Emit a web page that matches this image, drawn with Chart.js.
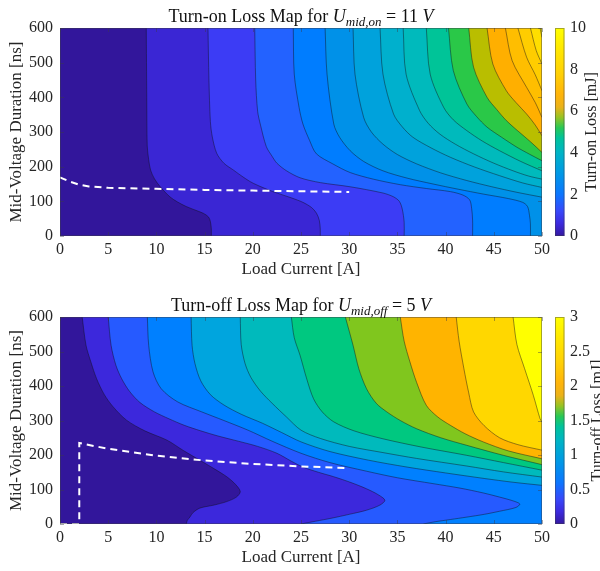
<!DOCTYPE html>
<html>
<head>
<meta charset="utf-8">
<script src="https://cdn.jsdelivr.net/npm/chart.js@4.4.0/dist/chart.umd.min.js"></script>
<style>
  body { margin: 0; background: #fff; }
  #wrap { position: relative; width: 600px; height: 571px; }
  canvas { position: absolute; left: 0; }
</style>
</head>
<body>
<div id="wrap">
  <canvas id="onChart" width="600" height="285" style="top:0"></canvas>
  <canvas id="offChart" width="600" height="286" style="top:285px"></canvas>
</div>
<script>
// MARK: - axes
const currentAxis = [0, 50, 5];      // min, max, step  [A]
const durationAxis = [0, 600, 100];  // min, max, step  [ns]
const onLossAxis = [0, 10, 2];       // [mJ]
const offLossAxis = [0, 3, 0.5];     // [mJ]

// MARK: - turn-on map (contour lines as [current, duration], levels 0.5 .. 8 mJ)
const onLevels = [0.5, 1, 1.5, 2, 2.5, 3, 3.5, 4, 4.5, 5, 5.5, 6, 6.5, 7, 7.5, 8];
const onContours = [
  [[8.95,600],[9.0,400],[9.05,260],[9.2,220],[9.4,190],[9.8,165],[10.4,142],[11.4,113],[12.2,98],[13.1,85],[14.1,74],[14.9,65],[15.4,55],[15.6,42],[15.7,20],[15.7,0]],
  [[15.35,600],[15.45,450],[15.6,330],[15.8,286],[16.25,239],[17.0,210],[18.0,190],[19.0,170],[20.05,152],[22.1,128],[24.0,110],[25.2,97],[26.1,82],[26.6,66],[26.9,45],[27.0,20],[27.0,0]],
  [[20.2,600],[20.3,450],[20.5,360],[20.8,320],[21.4,258],[22.0,230],[22.5,210],[23.5,188],[24.9,168],[27.0,154],[30.1,142],[33.5,124],[34.6,113],[35.2,100],[35.5,78],[35.7,40],[35.7,0]],
  [[24.2,600],[24.3,467],[24.8,371],[25.2,323],[25.9,275],[26.6,237],[28.3,208],[30.1,183],[32.5,164],[35.3,148],[38.0,137],[40.5,128],[41.8,118],[42.5,104],[42.7,80],[42.8,46],[42.8,0]],
  [[27.5,600],[27.7,467],[28.4,323],[29.0,285],[30.1,246],[31.5,215],[33.5,188],[36.0,167],[38.7,150],[41.3,135],[43.9,121],[46.5,108],[48.0,97],[48.5,85],[48.7,60],[48.8,35],[48.8,0]],
  [[30.4,600],[30.6,467],[31.5,342],[32.3,300],[33.5,265],[35.0,235],[37.0,208],[39.5,182],[42.2,160],[44.8,142],[47.4,126],[50,112]],
  [[33.2,600],[33.5,467],[34.6,352],[35.5,315],[36.6,285],[38.5,254],[40.5,227],[43.0,199],[45.6,174],[48,153],[50,140]],
  [[35.6,600],[35.9,467],[37.3,362],[38.2,325],[39.4,294],[41.0,265],[42.9,237],[45.0,210],[47.0,188],[48.6,173],[50,164]],
  [[38.0,600],[38.4,467],[39.8,371],[40.8,335],[42.2,304],[43.8,274],[45.6,246],[47.8,215],[50,188]],
  [[40.3,600],[40.8,477],[42.2,381],[43.2,345],[44.3,314],[45.8,285],[47.4,256],[48.7,236],[50,217]],
  [[42.4,600],[42.9,487],[44.3,400],[45.3,365],[46.3,333],[47.5,303],[48.8,272],[50,241]],
  [[44.3,600],[44.9,496],[46.3,419],[47.3,385],[48.4,352],[49.3,320],[50,289]],
  [[46.2,600],[46.9,506],[48.4,429],[49.3,385],[50,342]],
  [[47.5,600],[48.4,516],[49.3,465],[50,419]],
  [[48.8,600],[49.4,535],[50,496]],
  [[49.8,600],[50,573]]
];
const onDashed = [[0,169],[1,157],[2,148],[3,143],[5,139],[10,136],[15,133],[20,131],[25,129],[30,127]];

// MARK: - turn-off map (levels 0.25 .. 2.5 mJ)
const offLevels = [0.25, 0.5, 0.75, 1, 1.25, 1.5, 1.75, 2, 2.25, 2.5];
const offContours = [
  [[2.3,600],[2.7,518],[3.2,470],[3.8,421],[4.6,375],[5.5,340],[6.9,301],[8.8,270],[11.1,243],[12.8,213],[14.5,185],[16.0,160],[17.3,137],[18.2,115],[18.7,94],[18.3,78],[17.3,65],[16.0,55],[14.5,46],[13.8,33],[13.5,21],[13.2,10],[13.1,0]],
  [[5.0,600],[5.3,518],[5.8,460],[6.4,421],[7.2,385],[8.3,352],[9.8,325],[11.3,305],[12.9,286],[14.6,270],[16.4,255],[18.5,240],[20.5,225],[22.5,205],[24.0,182],[25.2,165],[26.8,150],[28.4,137],[30.2,120],[31.8,102],[33.0,85],[33.7,69],[33.2,55],[31.8,40],[30.0,28],[28.2,17],[26.5,8],[25.0,0]],
  [[9.06,600],[9.2,518],[9.65,441],[10.5,392],[12.2,354],[14.7,325],[17.0,300],[19.5,272],[22.0,240],[25.0,205],[28.0,178],[31.8,153],[35.0,134],[38.7,117],[41.5,104],[43.9,90],[45.6,78],[47.0,67],[47.7,58],[47.3,48],[45.6,37],[44.0,28],[42.2,20],[40.5,13],[38.8,6],[37.7,0]],
  [[13.6,600],[13.7,518],[14.0,465],[14.6,415],[15.6,375],[17.0,345],[18.8,318],[21.0,292],[23.0,265],[25.0,238],[28.0,210],[32.0,185],[36.0,165],[40.0,148],[44.0,132],[47.0,121],[50,112]],
  [[18.7,600],[18.8,520],[19.2,465],[19.8,425],[20.8,385],[22.0,350],[23.5,310],[25.0,272],[27.0,248],[30.0,225],[33.5,207],[37.0,190],[42.2,168],[46.0,151],[50,136]],
  [[24.0,600],[24.3,540],[24.9,489],[25.6,420],[26.3,363],[27.2,325],[28.4,296],[30.5,270],[33.5,247],[37.5,223],[42.2,199],[46.0,178],[50,156]],
  [[29.6,600],[30.4,518],[31.0,450],[31.8,392],[32.8,350],[33.9,325],[35.3,300],[37.0,276],[39.5,250],[42.2,228],[46.0,199],[50,172]],
  [[35.3,600],[35.7,530],[36.3,470],[37.0,410],[38.0,344],[39.2,310],[40.5,286],[42.0,262],[43.9,238],[46.5,212],[50,189]],
  [[41.1,600],[41.4,530],[41.9,450],[42.4,380],[42.9,325],[44.0,285],[45.6,250],[47.5,230],[50,214]],
  [[47.0,600],[47.4,520],[48.2,450],[49.1,373],[49.8,305],[50,296]]
];
const offDashed = [[0,0],[1,0],[2,0],[2,235],[3,229],[5,218],[10,198],[15,184],[20,174],[25,167],[30,162]];

// MARK: - colours
const onBands = ['rgb(50,22,155)','rgb(58,38,212)','rgb(60,60,245)','rgb(35,98,255)','rgb(0,125,255)','rgb(0,145,232)','rgb(0,162,220)','rgb(0,176,205)','rgb(0,186,188)','rgb(0,196,152)','rgb(42,200,72)','rgb(185,190,0)','rgb(255,175,0)','rgb(255,190,0)','rgb(255,205,0)','rgb(255,222,0)','rgb(255,240,0)'];
const offBands = ['rgb(50,22,155)','rgb(60,40,220)','rgb(38,90,255)','rgb(0,128,255)','rgb(0,165,222)','rgb(0,186,188)','rgb(0,200,128)','rgb(128,198,30)','rgb(255,180,0)','rgb(255,215,0)','rgb(255,255,0)'];
const cbStops = [[0,'rgb(52,25,160)'],[0.06,'rgb(60,42,222)'],[0.12,'rgb(56,72,250)'],[0.2,'rgb(12,118,255)'],[0.3,'rgb(0,152,230)'],[0.4,'rgb(0,180,198)'],[0.47,'rgb(0,195,155)'],[0.52,'rgb(40,200,85)'],[0.57,'rgb(150,195,35)'],[0.62,'rgb(235,178,25)'],[0.68,'rgb(255,180,10)'],[0.78,'rgb(255,208,5)'],[0.9,'rgb(255,232,0)'],[1,'rgb(255,255,0)']];

const FONT = '"Liberation Serif", "Times New Roman", serif';
const TXT = '#262626';
const TENSION = 0.3;
Chart.defaults.font.family = FONT;

function pts(arr) {
  return arr.map(function(p) { return {x: p[0], y: p[1]}; });
}

// rich text for the titles (italic U, subscript)
function drawRich(ctx, parts, cx, y) {
  const fonts = { n: '18px ' + FONT, i: 'italic 18px ' + FONT, s: 'italic 13px ' + FONT };
  let total = 0;
  parts.forEach(function(p) { ctx.font = fonts[p[1]]; total += ctx.measureText(p[0]).width; });
  let x = cx - total / 2;
  ctx.fillStyle = '#111';
  ctx.textAlign = 'left';
  ctx.textBaseline = 'alphabetic';
  parts.forEach(function(p) {
    ctx.font = fonts[p[1]];
    ctx.fillText(p[0], x, p[1] === 's' ? y + 4 : y);
    x += ctx.measureText(p[0]).width;
  });
}

const decor = {
  id: 'decor',
  afterDraw(chart, args, o) {
    const ctx = chart.ctx;
    const a = chart.chartArea;
    const cb = chart.scales.cb;
    const xs = chart.scales.x, ys = chart.scales.y;
    ctx.save();

    // axes box with inward ticks
    ctx.strokeStyle = 'rgba(60,60,70,0.45)';
    ctx.lineWidth = 1;
    ctx.strokeRect(a.left + 0.5, a.top + 0.5, a.right - a.left - 1, a.bottom - a.top - 1);
    ctx.beginPath();
    xs.ticks.forEach(function(t) {
      const px = Math.round(xs.getPixelForValue(t.value)) + 0.5;
      ctx.moveTo(px, a.bottom); ctx.lineTo(px, a.bottom - 4);
      ctx.moveTo(px, a.top); ctx.lineTo(px, a.top + 4);
    });
    ys.ticks.forEach(function(t) {
      const py = Math.round(ys.getPixelForValue(t.value)) + 0.5;
      ctx.moveTo(a.left, py); ctx.lineTo(a.left + 4, py);
      ctx.moveTo(a.right, py); ctx.lineTo(a.right - 4, py);
    });
    ctx.stroke();

    // colorbar
    const top = cb.getPixelForValue(cb.max), bot = cb.getPixelForValue(cb.min);
    const x0 = a.right + 13, w = 9.5;
    const g = ctx.createLinearGradient(0, bot, 0, top);
    cbStops.forEach(function(s) { g.addColorStop(s[0], s[1]); });
    ctx.fillStyle = g;
    ctx.fillRect(x0, top, w, bot - top);
    ctx.strokeRect(x0 + 0.5, top + 0.5, w - 1, bot - top - 1);

    // colorbar label, reads bottom to top
    ctx.save();
    ctx.translate(o.labelX, (top + bot) / 2);
    ctx.rotate(-Math.PI / 2);
    ctx.font = '16px ' + FONT;
    ctx.fillStyle = TXT;
    ctx.textAlign = 'center';
    ctx.textBaseline = 'middle';
    ctx.fillText(o.label, 0, 0);
    ctx.restore();

    drawRich(ctx, o.title, (a.left + a.right) / 2, a.top - 6);
    ctx.restore();
  }
};

function noPad(s) {
  s.paddingTop = 0;
  s.paddingBottom = 0;
}

function makeChart(id, spec) {
  const xMin = currentAxis[0], xMax = currentAxis[1];
  const yMin = durationAxis[0], yMax = durationAxis[1];
  const datasets = [];
  const common = { xAxisID: 'x', yAxisID: 'y', pointRadius: 0, pointHoverRadius: 0 };

  // lowest band covers the whole map, every higher band is painted on top
  datasets.push(Object.assign({
    data: pts([[xMin, yMin], [xMax, yMin], [xMax, yMax], [xMin, yMax]]),
    fill: 'shape', backgroundColor: spec.bands[0], borderWidth: 0, tension: 0, order: 1000
  }, common));
  spec.contours.forEach(function(line, i) {
    // end points doubled so the smoothed fill edge follows the smoothed contour line exactly
    const first = line[0], last = line[line.length - 1];
    const poly = [first].concat(line, [last]);
    if (last[1] <= yMin) poly.push([xMax, yMin]);
    poly.push([xMax, yMax]);
    datasets.push(Object.assign({
      data: pts(poly), fill: 'shape', backgroundColor: spec.bands[i + 1], borderWidth: 0, tension: TENSION, order: 999 - i
    }, common));
  });
  spec.contours.forEach(function(line) {
    datasets.push(Object.assign({
      data: pts(line), fill: false, borderColor: 'rgba(15,15,25,0.75)', borderWidth: 0.6, tension: TENSION, order: 10
    }, common));
  });
  datasets.push(Object.assign({
    data: pts(spec.dashed), fill: false, borderColor: '#ffffff', borderWidth: 2, borderDash: [7, 5], tension: 0, order: 1
  }, common));

  const tickFont = { family: FONT, size: 16 };
  const titleFont = { family: FONT, size: 17 };
  return new Chart(document.getElementById(id), {
    type: 'line',
    data: { datasets: datasets },
    plugins: [decor],
    options: {
      responsive: false,
      animation: false,
      devicePixelRatio: 1,
      events: [],
      layout: { padding: { top: spec.padTop, left: 0, right: 0, bottom: 0 } },
      plugins: {
        legend: { display: false },
        tooltip: { enabled: false },
        decor: { title: spec.title, label: spec.cbLabel, labelX: spec.labelX }
      },
      scales: {
        x: {
          type: 'linear', min: xMin, max: xMax,
          afterFit: function(s) { s.height = spec.xAxisH; },
          ticks: { stepSize: currentAxis[2], autoSkip: false, maxRotation: 0, padding: 4, font: tickFont, color: TXT },
          grid: { display: false, drawTicks: false },
          border: { display: false },
          title: { display: true, text: 'Load Current [A]', font: titleFont, color: TXT, padding: { top: 0, bottom: spec.xTitlePad } }
        },
        y: {
          type: 'linear', position: 'left', min: yMin, max: yMax,
          afterFit: function(s) { s.width = 60; noPad(s); },
          ticks: { stepSize: durationAxis[2], autoSkip: false, padding: 7, font: tickFont, color: TXT },
          grid: { display: false, drawTicks: false },
          border: { display: false },
          title: { display: true, text: 'Mid-Voltage Duration [ns]', font: titleFont, color: TXT, padding: { top: 6, bottom: 0 } }
        },
        cb: {
          type: 'linear', position: 'right', min: spec.cbAxis[0], max: spec.cbAxis[1],
          afterFit: function(s) { s.width = 58; noPad(s); },
          ticks: {
            stepSize: spec.cbAxis[2], autoSkip: false, padding: 28, font: tickFont, color: TXT,
            callback: function(v) { return String(+v.toFixed(2)); }
          },
          grid: { display: false, drawTicks: false },
          border: { display: false }
        }
      }
    }
  });
}

makeChart('onChart', {
  contours: onContours, bands: onBands, dashed: onDashed, cbAxis: onLossAxis,
  padTop: 28, xAxisH: 49, xTitlePad: 5, labelX: 592,
  cbLabel: 'Turn-on Loss [mJ]',
  title: [['Turn-on Loss Map for ', 'n'], ['U', 'i'], ['mid,on', 's'], [' = 11 ', 'n'], ['V', 'i']]
});

makeChart('offChart', {
  contours: offContours, bands: offBands, dashed: offDashed, cbAxis: offLossAxis,
  padTop: 32, xAxisH: 47, xTitlePad: 3, labelX: 598,
  cbLabel: 'Turn-off Loss [mJ]',
  title: [['Turn-off Loss Map for ', 'n'], ['U', 'i'], ['mid,off', 's'], [' = 5 ', 'n'], ['V', 'i']]
});
</script>
</body>
</html>
